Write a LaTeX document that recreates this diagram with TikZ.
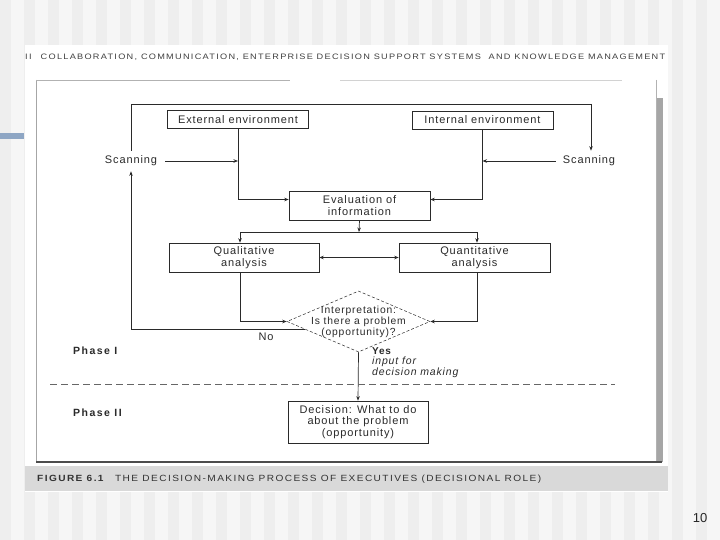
\documentclass[tikz,border=0pt]{standalone}
\usepackage{fontspec}
\setmainfont{Liberation Sans}
\usepackage{graphicx}
\usetikzlibrary{arrows.meta,shapes.geometric,calc}
\newfontfamily\diafont[LetterSpace=8]{Liberation Sans}
\newfontfamily\capfont[LetterSpace=14]{Liberation Sans}
\definecolor{ink}{HTML}{2A2A2A}
\definecolor{bluebar}{HTML}{8EA6C4}
\begin{document}
\begin{tikzpicture}[x=1pt,y=-1pt,
  box/.style={draw=ink, line width=0.6pt, rectangle, inner sep=0pt, align=center,
    font=\diafont\fontsize{11}{11.5}\selectfont, text=ink},
  lbl/.style={font=\diafont\fontsize{11}{11.5}\selectfont, text=ink, inner sep=1pt, align=left},
  phase/.style={font=\capfont\bfseries\fontsize{10.5}{12}\selectfont, text=ink, inner sep=0pt, anchor=west},
  conn/.style={draw=ink, line width=0.7pt, -{Stealth[length=4.5pt,width=3.5pt]}},
  plain/.style={draw=ink, line width=0.7pt}]
\useasboundingbox (0,0) rectangle (720,540);
% slide background
\fill[gray!7] (0,0) rectangle (720,540);
\foreach \i in {0,...,29} { \fill[gray!13] (\i*24,0) rectangle ++(11,540); }
\fill[bluebar] (0,133) rectangle (24,139);
% scanned page
\fill[white] (25,45) rectangle (668,492);
\node[anchor=west, inner sep=0pt, text=black!75] (hdr) at (25,57)
  {\resizebox{640pt}{5.5pt}{\capfont\fontsize{8}{9}\selectfont II\quad COLLABORATION, COMMUNICATION, ENTERPRISE DECISION SUPPORT SYSTEMS\ \ AND KNOWLEDGE MANAGEMENT}};
% frame
\draw[gray!70, line width=0.8pt] (36,80) -- (36,462);
\draw[gray!60, line width=0.8pt] (36,80) -- (290,80);
\draw[gray!35, line width=0.8pt] (340,80) -- (622,80);
\draw[gray!60, line width=0.6pt] (656,80) -- (656,462);
\fill[gray!70] (657,98) rectangle (663,462);
\draw[black!70, line width=2.5pt] (36,462) -- (662,462);
% caption band
\fill[gray!30] (25,466) rectangle (668,491);
\node[anchor=west, inner sep=0pt, text=black!80] (cap) at (37,479)
  {\resizebox{504pt}{6.5pt}{\capfont\fontsize{8}{9}\selectfont\textbf{FIGURE 6.1}\quad THE DECISION-MAKING PROCESS OF EXECUTIVES (DECISIONAL ROLE)}};
% nodes
\node[box, minimum width=141pt, minimum height=18pt] (ext) at (238,119.5) {External environment};
\node[box, minimum width=141pt, minimum height=18pt] (int) at (482.5,120) {Internal environment};
\node[lbl] (sl) at (131,161) {Scanning};
\node[lbl] (sr) at (589,161) {Scanning};
\node[box, minimum width=141pt, minimum height=29pt] (eval) at (359.5,205.5) {Evaluation of\\information};
\node[box, minimum width=150pt, minimum height=29pt] (qual) at (244,257.5) {Qualitative\\analysis};
\node[box, minimum width=151pt, minimum height=29pt] (quan) at (474.5,257.5) {Quantitative\\analysis};
\node[diamond, draw=ink, densely dashed, line width=0.5pt, inner sep=0pt,
      minimum width=143pt, minimum height=61pt] (dia) at (358.5,321.5) {};
\node[lbl, align=center, font=\diafont\fontsize{10.3}{11}\selectfont] (diatxt) at (dia)
  {Interpretation:\\Is there a problem\\(opportunity)?};
\node[box, minimum width=140pt, minimum height=42pt] (dec) at (358,422) {Decision: What to do\\about the problem\\(opportunity)};
\node[lbl] (no) at (266,337) {No};
\node[lbl, anchor=west, font=\diafont\bfseries\fontsize{10}{11}\selectfont] (yes) at (371,351) {Yes};
\node[lbl, anchor=north west, font=\diafont\itshape\fontsize{10.5}{10.5}\selectfont] (inp) at (371,356) {input for\\decision making};
\node[phase] (ph1) at (73,351) {Phase I};
\node[phase] (ph2) at (73,413) {Phase II};
\node[font=\fontsize{13}{14}\selectfont, text=black!85] (pg) at (700,518) {10};
% connectors
\coordinate (tr) at (591,104);
\coordinate (split) at (359,232);
\draw[plain] ([yshift=4pt]sl.north) |- (tr);
\draw[conn] (tr) -- ([yshift=4pt]tr |- sr.north);
\draw[conn, shorten <=7pt] (sl.east) -- (ext.south |- sl.east);
\draw[conn, shorten <=6pt] (sr.west) -- (int.south |- sr.west);
\draw[conn] (ext.south) |- ([yshift=6pt]eval.west);
\draw[conn] (int.south) |- ([yshift=6pt]eval.east);
\draw[conn] (eval.south) -- (split);
\draw[conn] (split) -| ([xshift=-4pt]qual.north);
\draw[conn] (split) -| ([xshift=2.5pt]quan.north);
\draw[draw=ink, line width=0.7pt, {Stealth[length=4.5pt,width=3.5pt]}-{Stealth[length=4.5pt,width=3.5pt]}] (qual.east) -- (quan.west);
\draw[conn] ([xshift=-4pt]qual.south) |- (dia.west);
\draw[conn] ([xshift=2.5pt]quan.south) |- (dia.east);
\draw[conn] ($(dia.west)!0.26!(dia.south)$) -| ([yshift=-4pt]sl.south);
\draw[conn] (dia.south) -- (dec.north);
\coordinate (dl) at (50,384);
\coordinate (dr) at (615,384);
\draw[gray!80!black, line width=0.7pt, dash pattern=on 7pt off 4pt] (dl) -- (dr);
\end{tikzpicture}
\end{document}
